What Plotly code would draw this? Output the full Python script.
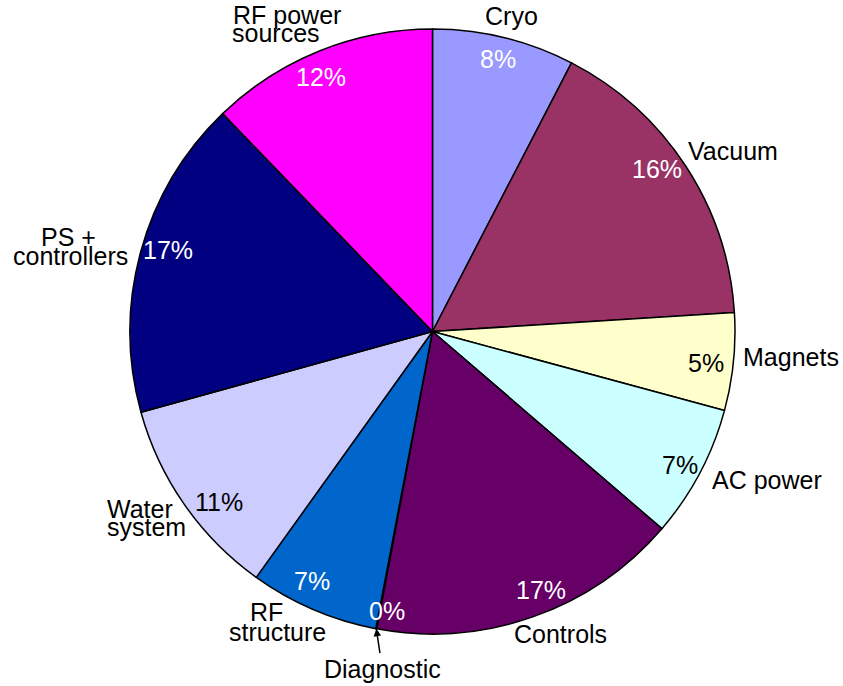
import math
import plotly.graph_objects as go

# Share of each subsystem (clockwise from 12 o'clock)
labels = ["Cryo", "Vacuum", "Magnets", "AC power", "Controls", "Diagnostic",
          "RF structure", "Water system", "PS + controllers", "RF power sources"]
values = [7.6, 16.4, 5.2, 7.1, 16.65, 0.05, 6.9, 10.8, 17.1, 12.2]

colors = ["#9999FF", "#993366", "#FFFFCC", "#CCFFFF", "#660066", "#FF8080",
          "#0066CC", "#CCCCFF", "#000080", "#FF00FF"]
pct_colors = ["white", "white", "black", "black", "white", "white",
              "white", "black", "white", "white"]

# Percentage text: pixel nudges from the slice's mid-angle point near the rim
pct_nudge = {
    "Cryo": (0, -3.5), "Vacuum": (-7.5, -11), "Magnets": (-2, 4),
    "AC power": (3, 4), "Controls": (17, -3), "Diagnostic": (6, 8),
    "RF structure": (-11, -5), "Water system": (13, 12),
    "PS + controllers": (2, -8), "RF power sources": (-7.5, 2.5),
}

# Outside label lines: (text, dx, dy) pixel offsets from a point just outside the rim
label_lines = {
    "Cryo": [("Cryo", 4, -7)],
    "Vacuum": [("Vacuum", 34, -7)],
    "Magnets": [("Magnets", 42.5, -6.5)],
    "AC power": [("AC power", 54, 0)],
    "Controls": [("Controls", 23, 3)],
    "RF structure": [("RF", -40.5, -11), ("structure", -30, 9)],
    "Water system": [("Water", -32.5, -4), ("system", -26, 14)],
    "PS + controllers": [("PS +", -57.5, -11), ("controllers", -56, 8)],
    "RF power sources": [("RF power", -26.5, -22), ("sources", -37.5, -3.5)],
}

FONT = "Liberation Sans, Arial, sans-serif"
FS = 25
W, H = 843, 686
ML, MR, MT, MB = 130, 108, 29, 52

fig = go.Figure(go.Pie(
    labels=labels,
    values=values,
    sort=False,
    direction="clockwise",
    rotation=0,
    marker=dict(colors=colors, line=dict(color="black", width=1.5)),
    textinfo="none",
    hoverinfo="label+percent",
    showlegend=False,
    domain=dict(x=[0, 1], y=[0, 1]),
))

total = sum(values)
annotations = []
cum = 0.0
for lab, v, pc in zip(labels, values, pct_colors):
    mid = (cum + v / 2) / total * 2 * math.pi
    cum += v
    s, c = math.sin(mid), math.cos(mid)

    # percentage inside the slice, near the rim
    kp = 0.915
    ndx, ndy = pct_nudge[lab]
    annotations.append(dict(
        x=0.5 + kp * 0.5 * s, y=0.5 + kp * 0.5 * c, xref="paper", yref="paper",
        text=f"{round(v / total * 100)}%", showarrow=False,
        xanchor="center", yanchor="middle", xshift=ndx, yshift=-ndy,
        font=dict(family=FONT, size=FS, color=pc),
    ))

    if lab == "Diagnostic":
        annotations.append(dict(
            x=0.5 + 0.5 * s, y=0.5 + 0.5 * c, xref="paper", yref="paper",
            text=lab, showarrow=True, ax=6, ay=40,
            arrowhead=2, arrowsize=1, arrowwidth=1.5, arrowcolor="black",
            standoff=0, startstandoff=0,
            font=dict(family=FONT, size=FS, color="black"),
        ))
        continue

    kl = 1.05
    for text, dx, dy in label_lines[lab]:
        annotations.append(dict(
            x=0.5 + kl * 0.5 * s, y=0.5 + kl * 0.5 * c, xref="paper", yref="paper",
            text=text, showarrow=False, xanchor="center", yanchor="middle",
            xshift=dx, yshift=-dy,
            font=dict(family=FONT, size=FS, color="black"),
        ))

fig.update_layout(
    width=W, height=H,
    margin=dict(l=ML, r=MR, t=MT, b=MB, pad=0),
    paper_bgcolor="white", plot_bgcolor="white",
    annotations=annotations,
)

fig.write_html("out.html")
